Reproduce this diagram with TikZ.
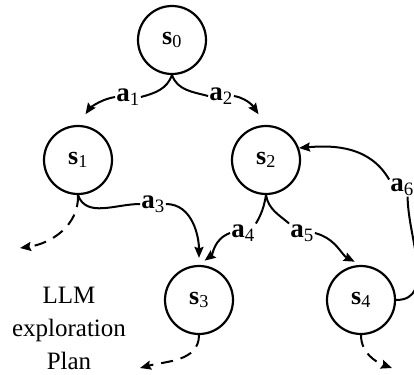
\documentclass[tikz,border=0pt]{standalone}
\usepackage{fontspec}
\setmainfont{Liberation Serif}
\usetikzlibrary{arrows.meta}

\begin{document}
\begin{tikzpicture}
	[x=1pt,y=-1pt,
	 st/.style={circle,draw,line width=2.2pt,minimum size=68pt,inner sep=0pt,font=\fontsize{26}{28}\selectfont\bfseries},
	 lbl/.style={inner sep=1pt,font=\fontsize{27}{28}\selectfont\bfseries},
	 ln/.style={line width=2pt},
	 arr/.style={ln,-{Stealth[length=11pt,width=9pt,inset=1.5pt]}},
	 loose/.style={arr,dash pattern=on 12pt off 8pt}]

\useasboundingbox (0,0) rectangle (414,374);

	\foreach \nm/\x/\y in {0/172/40,1/78/160,2/266/160,3/199/300,4/361/300}
	{
	 \node[st] (s\nm) at (\x,\y) {s\textsubscript{\mdseries\nm}};
	}
	\foreach \nm/\x/\y in {1/128/97,2/221/96,3/153/204,4/243/233,5/302/233}
	{
	 \node[lbl] (a\nm) at (\x,\y) {a\textsubscript{\mdseries\nm}};
	}
	\node[lbl,anchor=east] (a6) at (415,187) {a\textsubscript{\mdseries 6}};

	\draw[ln] (s0.south) to[out=-110,in=15] (a1.east);
	\draw[arr,shorten >=13pt] (a1.west) to[out=190,in=55] (s1.north);
	\draw[ln] (s0.south) to[out=-70,in=165] (a2.west);
	\draw[arr,shorten >=13pt] (a2.east) to[out=-10,in=125] (s2.north);

	\draw[ln] (s1.south) to[out=-70,in=180] (a3.west);
	\draw[arr,shorten >=7pt] (a3.east) to[out=0,in=90] (s3.north);
	\draw[ln] (s2.south) to[out=-100,in=60] (a4.north east);
	\draw[arr,shorten >=7pt] (a4.west) to[out=200,in=37] (s3.north);
	\draw[ln] (s2.south) to[out=-80,in=140] (a5.north west);
	\draw[arr,shorten >=7pt] (a5.east) to[out=-15,in=153] (s4.north);

	\draw[ln] (s4.east) to[out=0,in=-90] (a6.-60);
	\draw[arr] (a6.150) to[out=120,in=5] (s2.20);

	% open ends
	\coordinate (e1) at (20,248);
	\coordinate (e3) at (140,368);
	\coordinate (e4) at (392,368);
	\draw[loose] (s1.south) to[out=-88,in=8] (e1);
	\draw[loose] (s3.south) to[out=-90,in=15] (e3);
	\draw[loose] (s4.south) to[out=-90,in=160] (e4);

	\node[align=center,anchor=north,inner sep=0pt,font=\fontsize{25}{33}\selectfont] (plan) at (69,287) {LLM\\exploration\\Plan};

\end{tikzpicture}
\end{document}
